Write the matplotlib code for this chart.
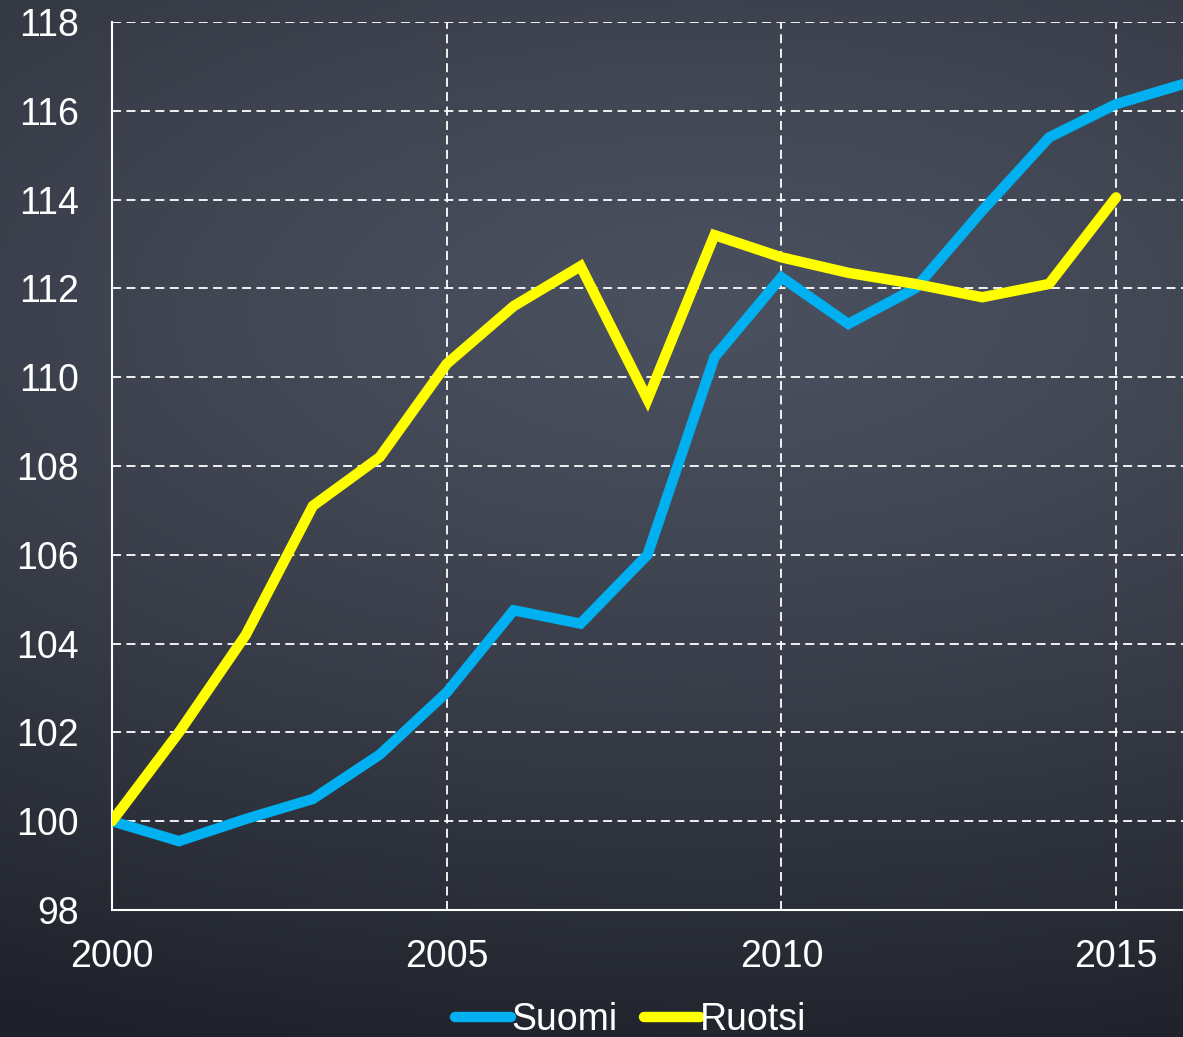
import numpy as np
import matplotlib
matplotlib.use("Agg")
import matplotlib.pyplot as plt

years = list(range(2000, 2017))
suomi = [100.0, 99.55, 100.05, 100.5, 101.5, 102.9, 104.75, 104.45, 106.0,
         110.45, 112.25, 111.2, 112.0, 113.75, 115.4, 116.15, 116.6]
ruotsi_years = list(range(2000, 2016))
ruotsi = [100.0, 102.0, 104.2, 107.1, 108.2, 110.3, 111.6, 112.5, 109.5,
          113.2, 112.7, 112.35, 112.1, 111.8, 112.1, 114.05]

plt.rcParams['font.family'] = ['Liberation Sans', 'DejaVu Sans']

fig = plt.figure(figsize=(11.83, 10.37), dpi=100)

# chalkboard-like background gradient
bg_ax = fig.add_axes([0, 0, 1, 1], zorder=-10)
yy, xx = np.mgrid[0:1:200j, 0:1:200j]
dist = np.sqrt(((xx - 0.6) / 1.4) ** 2 + ((yy - 0.3) / 0.75) ** 2)
light = np.array([0x4a, 0x50, 0x5e]) / 255
dark = np.array([0x1e, 0x21, 0x29]) / 255
t = np.clip(dist, 0, 1)[..., None] ** 1.3
img = light * (1 - t) + dark * t
bg_ax.imshow(img, aspect='auto', extent=[0, 1, 0, 1], origin='upper')
bg_ax.axis('off')

ax = fig.add_axes([0.0947, 0.1225, 0.9053, 0.8563])
ax.patch.set_alpha(0)
ax.plot(years, suomi, color='#00b0f0', lw=7.5, solid_joinstyle='miter',
        solid_capstyle='round', label='Suomi', zorder=3)
ax.plot(ruotsi_years, ruotsi, color='#ffff00', lw=7.5, solid_joinstyle='miter',
        solid_capstyle='round', label='Ruotsi', zorder=3)

ax.set_xlim(2000, 2016)
ax.set_ylim(98, 118)
ax.set_xticks([2000, 2005, 2010, 2015])
ax.set_yticks(range(98, 119, 2))
ax.grid(True, color='white', ls=(0, (5, 3)), lw=1.3)
ax.tick_params(length=0, labelsize=27, colors='white')
ax.tick_params(axis='y', pad=24)
ax.tick_params(axis='x', pad=21)
for s in ['top', 'right']:
    ax.spines[s].set_visible(False)
for s in ['left', 'bottom']:
    ax.spines[s].set_color('white')
    ax.spines[s].set_linewidth(1.5)

leg = fig.legend(*ax.get_legend_handles_labels(), loc='center',
                 bbox_to_anchor=(0.533, 0.016), ncol=2, frameon=False,
                 fontsize=27, handlelength=1.5, handletextpad=0.0,
                 columnspacing=0.7, labelcolor='white', borderpad=0)
for h in leg.get_lines():
    h.set_linewidth(7.5)

fig.savefig('out.png', dpi=100)
